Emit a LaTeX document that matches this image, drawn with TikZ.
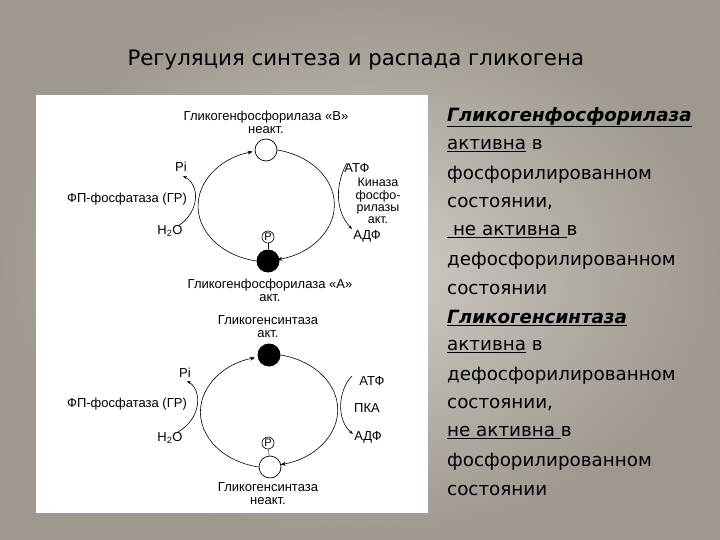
\documentclass[tikz,border=0pt]{standalone}
\usepackage{fontspec}
\setmainfont{Liberation Sans}
\newfontfamily\rtfont{DejaVu Sans}
\usetikzlibrary{arrows.meta}
\definecolor{bgin}{HTML}{D2CEC6}
\definecolor{bgout}{HTML}{9E988E}
\begin{document}
\begin{tikzpicture}[x=1pt,y=-1pt,
  lbl/.style={font=\fontsize{13}{13}\selectfont,inner sep=0pt,align=center},
  cyc/.style={line width=0.6pt,-{Stealth[length=5pt,width=4pt]}},
  side/.style={line width=0.6pt,-{Stealth[length=4pt,width=3pt]}},
  pn/.style={circle,draw,line width=0.6pt,inner sep=0pt,minimum size=12pt,font=\fontsize{11}{11}\selectfont},
  open/.style={circle,draw,line width=0.7pt,fill=white,minimum size=22pt,inner sep=0pt},
  full/.style={circle,fill=black,minimum size=23pt,inner sep=0pt},
  rt/.style={font=\rtfont\fontsize{18.3}{19}\selectfont,anchor=west,inner sep=0pt}]
\useasboundingbox (0,0) rectangle (720,540);
\shade[inner color=bgin,outer color=bgout] (0,0) rectangle (720,540);
\fill[white] (36,95) rectangle (428,513);
\node[font=\rtfont\fontsize{21.3}{22}\selectfont,anchor=west] (title) at (124,60) {Регуляция синтеза и распада гликогена};
% top cycle
\node[open] (tb) at (266,150) {};
\node[full] (ta) at (268,261) {};
\node[pn] (tp) at (268,237) {P};
\draw (tp) -- (ta);
\draw[cyc] (ta.west) arc[start angle=101,end angle=256,x radius=72,y radius=56];
\draw[cyc] (tb.east) arc[start angle=-78,end angle=78,x radius=72,y radius=56];
\node[lbl] (tbl) at (266,122) {Гликогенфосфорилаза «В»\\неакт.};
\node[lbl] (tal) at (270,290) {Гликогенфосфорилаза «А»\\акт.};
\node[lbl] (tpi) at (181,167) {Pi};
\node[lbl] (tfp) at (127,199) {ФП-фосфатаза (ГР)};
\node[lbl] (th) at (170,231) {H\textsubscript{2}O};
\node[lbl] (tatf) at (357,168) {АТФ};
\node[lbl,font=\fontsize{12.5}{12.3}\selectfont,align=center] (tk) at (378,201) {Киназа\\фосфо-\\рилазы\\акт.};
\node[lbl] (tadf) at (367,236) {АДФ};
\coordinate (tl1) at (178,226); \coordinate (tl2) at (183,176);
\draw[side] (tl1) .. controls (200,212) and (200,185) .. (tl2);
\coordinate (tr1) at (347,163); \coordinate (tr2) at (352,229);
\draw[side] (tr1) .. controls (336,182) and (334,210) .. (tr2);
% bottom cycle
\node[full] (ba) at (269,355) {};
\node[open] (bb) at (270,467) {};
\node[pn] (bp) at (268,443) {P};
\draw (bp) -- (bb);
\draw[cyc] (bb.west) arc[start angle=101,end angle=256,x radius=72,y radius=56];
\draw[cyc] (ba.east) arc[start angle=-78,end angle=78,x radius=72,y radius=56];
\node[lbl] (bal) at (268,327) {Гликогенсинтаза\\акт.};
\node[lbl] (bbl) at (268,494) {Гликогенсинтаза\\неакт.};
\node[lbl] (bpi) at (185,373) {Pi};
\node[lbl] (bfp) at (127,404) {ФП-фосфатаза (ГР)};
\node[lbl] (bh) at (170,438) {H\textsubscript{2}O};
\node[lbl] (batf) at (372,381) {АТФ};
\node[lbl] (bpka) at (367,408) {ПКА};
\node[lbl] (badf) at (368,437) {АДФ};
\coordinate (bl1) at (178,432); \coordinate (bl2) at (187,381);
\draw[side] (bl1) .. controls (202,418) and (202,390) .. (bl2);
\coordinate (br1) at (352,376); \coordinate (br2) at (353,434);
\draw[side] (br1) .. controls (338,390) and (336,420) .. (br2);
% right text
\foreach \t [count=\i from 0] in {%
 {\textbf{\textit{\underline{Гликогенфосфорилаза}}}},
 {\underline{активна} в},
 {фосфорилированном},
 {состоянии,},
 {\underline{\ не активна }в},
 {дефосфорилированном},
 {состоянии},
 {\textbf{\textit{\underline{Гликогенсинтаза}}}},
 {\underline{активна} в},
 {дефосфорилированном},
 {состоянии,},
 {\underline{не активна }в},
 {фосфорилированном},
 {состоянии}}
 \node[rt] (r\i) at (447,{117+\i*28.7}) {\t};
\end{tikzpicture}
\end{document}
